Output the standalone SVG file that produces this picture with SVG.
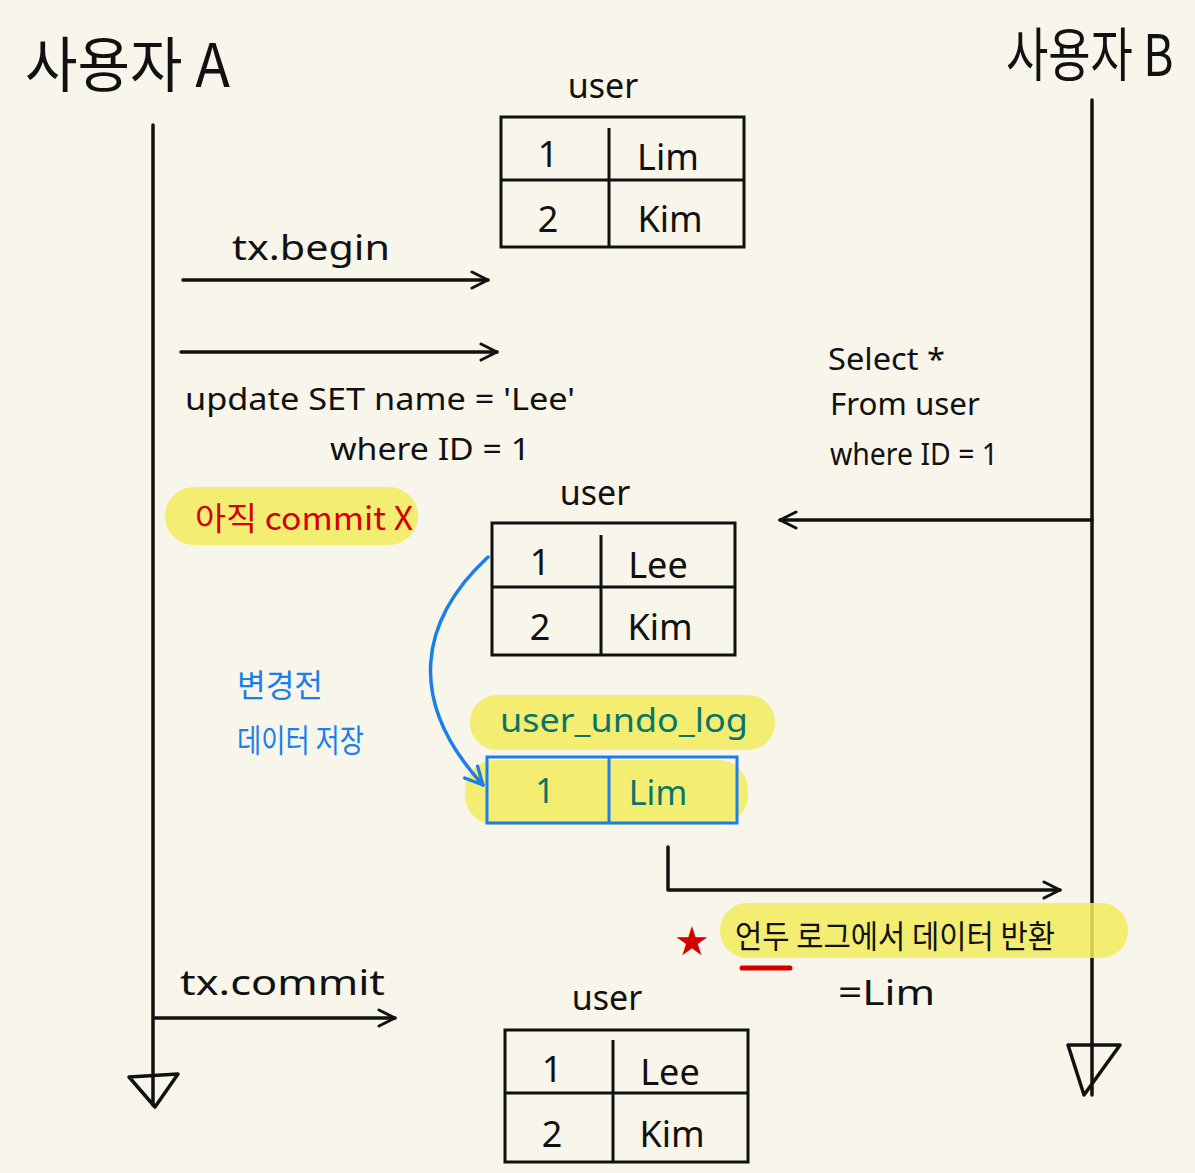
<svg xmlns="http://www.w3.org/2000/svg" width="1195" height="1173" viewBox="0 0 1195 1173">
<defs>
<style>
.t{font-family:"Noto Sans","Noto Sans CJK KR",sans-serif;fill:#111}
.k{font-family:"Noto Sans CJK KR","Noto Sans",sans-serif}
.ln{stroke:#111;stroke-width:3.5;fill:none;stroke-linecap:round;stroke-linejoin:round}
.tbl{stroke:#111;stroke-width:3;fill:none}
.cell{font-family:"Noto Sans",sans-serif;font-size:36px;fill:#111;text-anchor:middle}
.hl{fill:#f2ec5c;opacity:0.85}
</style>
<marker id="open" viewBox="0 0 20 20" refX="18" refY="10" markerWidth="20" markerHeight="20" markerUnits="userSpaceOnUse" orient="auto">
<path d="M2,2 L18,10 L2,18" fill="none" stroke="#111" stroke-width="3" stroke-linecap="round" stroke-linejoin="round"/>
</marker>
<marker id="openBlue" viewBox="0 0 20 20" refX="18" refY="10" markerWidth="22" markerHeight="22" markerUnits="userSpaceOnUse" orient="auto">
<path d="M2,2 L18,10 L2,18" fill="none" stroke="#1a7fe8" stroke-width="3" stroke-linecap="round" stroke-linejoin="round"/>
</marker>
</defs>
<rect width="1195" height="1173" fill="#f8f5ea"/>

<g id="userA">
<text class="t k" x="25" y="87" font-size="60" textLength="205" lengthAdjust="spacingAndGlyphs">사용자 A</text>
<line class="ln" x1="153" y1="125" x2="153" y2="1105"/>
<path class="ln" d="M129,1077 L178,1074 L155,1107 Z"/>
</g>

<g id="userB">
<text class="t k" transform="translate(1006,76) scale(1,1.25)" x="0" y="0" font-size="46">사용자 B</text>
<line class="ln" x1="1092" y1="100" x2="1092" y2="1095"/>
<path class="ln" d="M1068,1045 L1120,1045 L1084,1095 Z"/>
</g>

<g id="table1">
<text class="t" x="603" y="98" font-size="34" text-anchor="middle">user</text>
<rect class="tbl" x="501" y="117" width="243" height="130"/>
<line class="tbl" x1="501" y1="180" x2="744" y2="180"/>
<line class="tbl" x1="609" y1="128" x2="609" y2="247"/>
<text class="cell" x="548" y="167">1</text>
<text class="cell" x="668" y="170">Lim</text>
<text class="cell" x="548" y="232">2</text>
<text class="cell" x="670" y="232">Kim</text>
</g>

<g id="table2">
<text class="t" x="595" y="505" font-size="34" text-anchor="middle">user</text>
<rect class="tbl" x="492" y="523" width="243" height="132"/>
<line class="tbl" x1="492" y1="587" x2="735" y2="587"/>
<line class="tbl" x1="601" y1="535" x2="601" y2="655"/>
<text class="cell" x="540" y="575">1</text>
<text class="cell" x="658" y="578">Lee</text>
<text class="cell" x="540" y="640">2</text>
<text class="cell" x="660" y="640">Kim</text>
</g>

<g id="undoLog">
<rect class="hl" x="470" y="695" width="305" height="55" rx="27"/>
<text x="500" y="732" font-size="32" fill="#0b7468" font-family="Noto Sans,sans-serif" textLength="248" lengthAdjust="spacingAndGlyphs">user_undo_log</text>
<rect class="hl" x="465" y="760" width="283" height="65" rx="30"/>
<rect x="487" y="757" width="250" height="66" fill="none" stroke="#1a7fe8" stroke-width="3"/>
<line x1="609" y1="757" x2="609" y2="823" stroke="#1a7fe8" stroke-width="3"/>
<text x="545" y="803" font-size="34" text-anchor="middle" fill="#0b7468" font-family="Noto Sans,sans-serif">1</text>
<text x="658" y="805" font-size="34" text-anchor="middle" fill="#0b7468" font-family="Noto Sans,sans-serif">Lim</text>
</g>

<g id="table3">
<text class="t" x="607" y="1010" font-size="34" text-anchor="middle">user</text>
<rect class="tbl" x="505" y="1030" width="243" height="132"/>
<line class="tbl" x1="505" y1="1093" x2="748" y2="1093"/>
<line class="tbl" x1="613" y1="1040" x2="613" y2="1162"/>
<text class="cell" x="552" y="1082">1</text>
<text class="cell" x="670" y="1085">Lee</text>
<text class="cell" x="552" y="1147">2</text>
<text class="cell" x="672" y="1147">Kim</text>
</g>

<g id="labels">
<text class="t" x="232" y="260" font-size="34" textLength="158" lengthAdjust="spacingAndGlyphs">tx.begin</text>
<text class="t" x="185" y="410" font-size="30" textLength="390" lengthAdjust="spacingAndGlyphs">update SET name = 'Lee'</text>
<text class="t" x="330" y="460" font-size="30" textLength="200" lengthAdjust="spacingAndGlyphs">where ID = 1</text>
<rect class="hl" x="165" y="487" width="253" height="58" rx="29"/>
<text class="k" x="195" y="530" font-size="32" fill="#d40000" textLength="218" lengthAdjust="spacingAndGlyphs">아직 commit X</text>
<text class="t" x="828" y="370" font-size="30" textLength="117" lengthAdjust="spacingAndGlyphs">Select *</text>
<text class="t" x="830" y="415" font-size="30" textLength="150" lengthAdjust="spacingAndGlyphs">From user</text>
<text class="t" x="830" y="465" font-size="30" textLength="168" lengthAdjust="spacingAndGlyphs">where ID = 1</text>
<text class="k" x="237" y="697" font-size="32" fill="#1a7fe8" textLength="86" lengthAdjust="spacingAndGlyphs">변경전</text>
<text class="k" x="237" y="752" font-size="32" fill="#1a7fe8" textLength="127" lengthAdjust="spacingAndGlyphs">데이터 저장</text>
<rect class="hl" x="720" y="903" width="408" height="55" rx="27"/>
<text class="t k" x="735" y="948" font-size="32" textLength="320" lengthAdjust="spacingAndGlyphs">언두 로그에서 데이터 반환</text>
<text x="692" y="955" font-size="40" text-anchor="middle" fill="#d40000" font-family="DejaVu Sans,sans-serif">★</text>
<line x1="742" y1="968" x2="790" y2="968" stroke="#d40000" stroke-width="5" stroke-linecap="round"/>
<text class="t" x="838" y="1005" font-size="34" textLength="97" lengthAdjust="spacingAndGlyphs">=Lim</text>
<text class="t" x="180" y="995" font-size="34" textLength="205" lengthAdjust="spacingAndGlyphs">tx.commit</text>
</g>

<g id="connectors">
<line class="ln" x1="183" y1="280" x2="488" y2="280" marker-end="url(#open)"/>
<line class="ln" x1="181" y1="352" x2="497" y2="352" marker-end="url(#open)"/>
<line class="ln" x1="1092" y1="520" x2="780" y2="520" marker-end="url(#open)"/>
<path d="M488,557 C420,620 405,700 483,785" fill="none" stroke="#1a7fe8" stroke-width="3.5" stroke-linecap="round" marker-end="url(#openBlue)"/>
<path class="ln" d="M668,847 L668,890 L1060,890" marker-end="url(#open)"/>
<line class="ln" x1="155" y1="1018" x2="395" y2="1018" marker-end="url(#open)"/>
</g>
</svg>
